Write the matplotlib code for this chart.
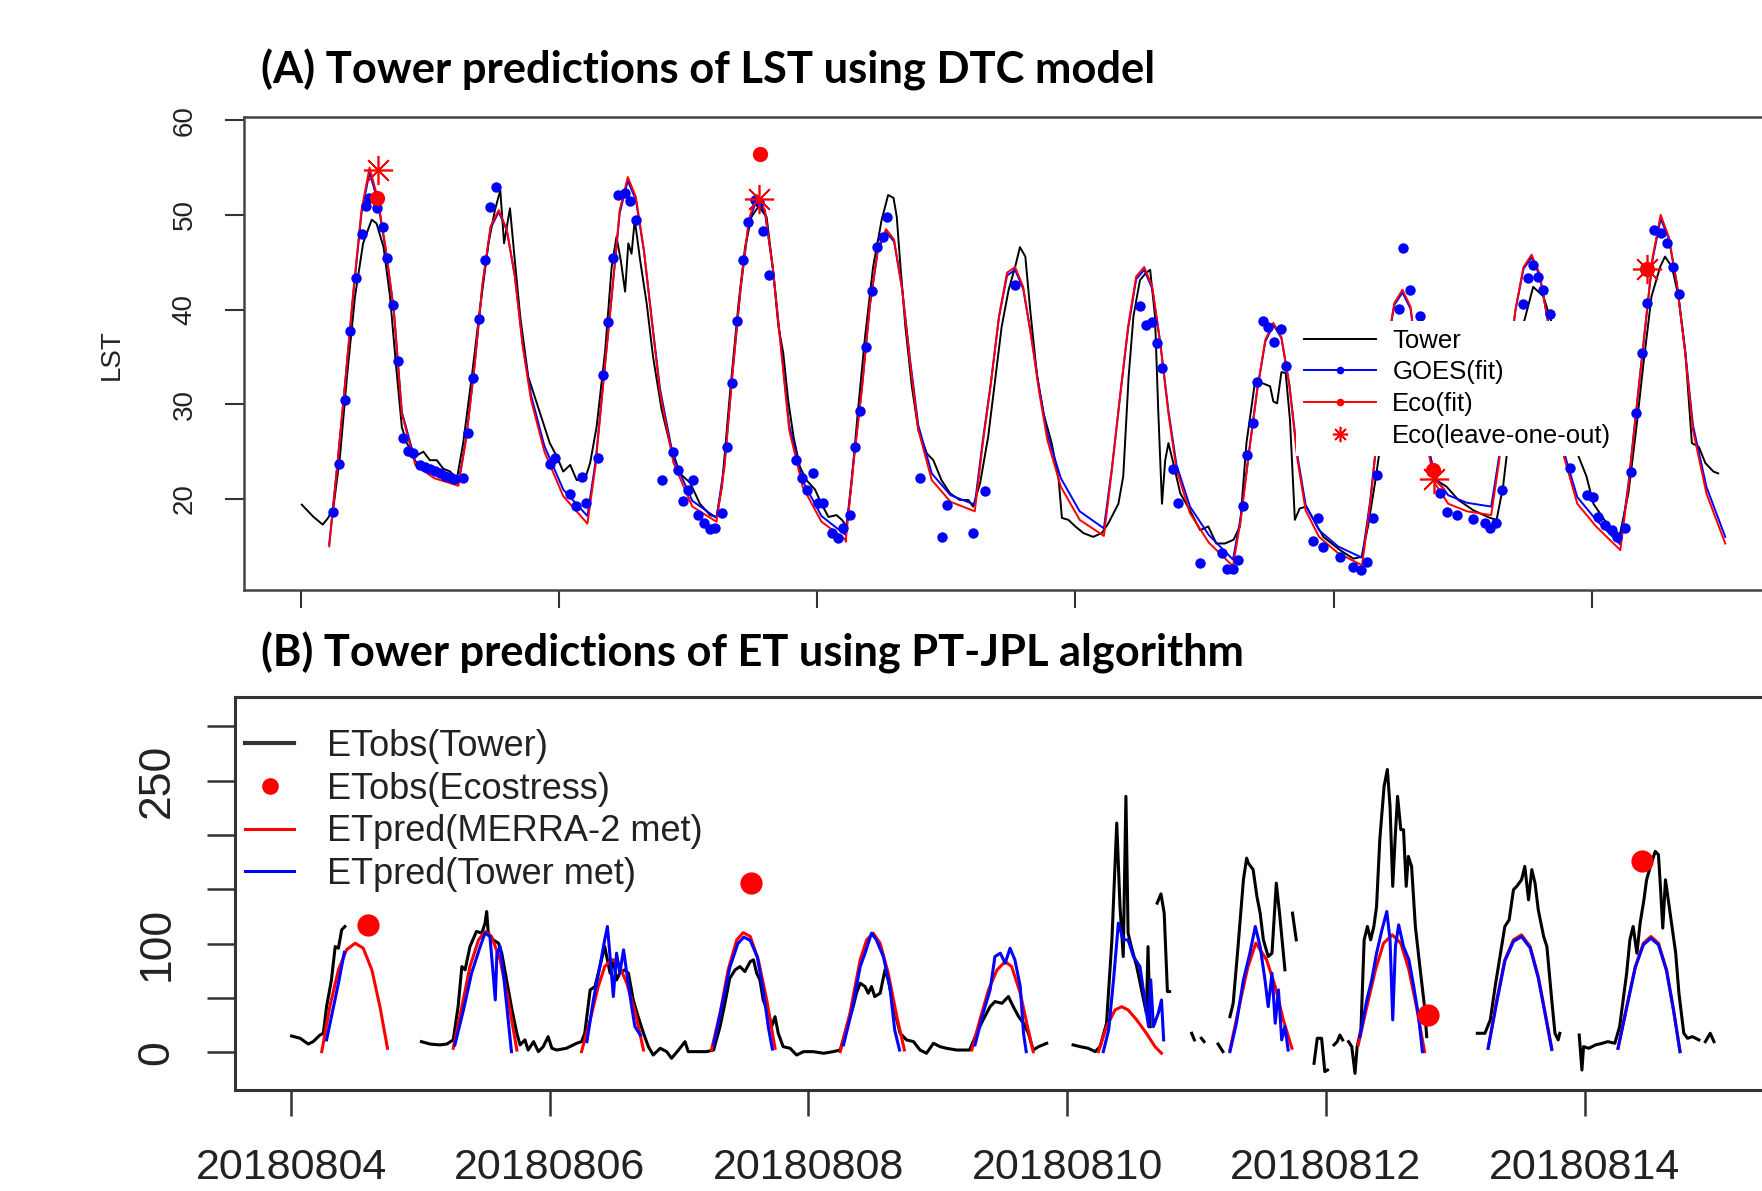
import numpy as np
import matplotlib
matplotlib.use('Agg')
import matplotlib.pyplot as plt
from matplotlib.lines import Line2D

nan = np.nan

# x axis: hours since 2018-08-04 00:00
date_ticks = [0, 48, 96, 144, 192, 240]
date_labels = ['20180804', '20180806', '20180808', '20180810', '20180812', '20180814']

# ---------------- (A) LST ----------------
# DTC model curves, one row per day, sampled at start + offset hours
dtc_starts = [5.3, 29.3, 53.3, 77.3, 101.3, 125.3, 149.3, 173.3, 197.3, 221.3, 245.3]
dtc_offsets = [0, 1.5, 3, 4.5, 6, 7.5, 9, 10.5, 12, 13.5, 16, 19.5, 24]
eco_fit = [
    [15.0, 23.5, 32.5, 42.0, 50.5, 55.0, 51.8, 46.5, 40.0, 29.0, 23.6, 22.2, 21.4],
    [21.4, 26.5, 34.0, 42.8, 48.8, 50.5, 48.5, 43.5, 36.0, 30.5, 25.0, 20.3, 17.4],
    [17.4, 23.5, 32.6, 41.4, 50.5, 54.0, 51.9, 46.3, 38.6, 31.2, 23.8, 19.2, 17.6],
    [17.6, 23.5, 33.5, 42.5, 49.5, 52.1, 50.5, 44.2, 35.7, 27.3, 21.3, 17.6, 15.7],
    [15.5, 24.0, 31.5, 40.5, 46.5, 48.5, 47.4, 42.1, 34.3, 27.3, 22.0, 19.7, 18.7],
    [18.7, 25.9, 32.2, 39.3, 43.9, 44.5, 42.4, 37.1, 31.2, 26.2, 21.3, 17.8, 16.1],
    [16.1, 23.1, 30.8, 38.2, 43.5, 44.5, 42.4, 36.4, 29.0, 23.1, 18.5, 15.4, 12.9],
    [12.9, 18.0, 25.0, 31.5, 36.8, 38.6, 37.1, 31.9, 24.1, 18.8, 16.0, 14.3, 13.0],
    [13.0, 19.5, 27.6, 35.7, 40.7, 42.1, 40.3, 33.6, 25.9, 21.7, 19.5, 18.7, 18.3],
    [18.3, 24.1, 32.9, 40.0, 44.5, 45.8, 43.8, 38.9, 31.2, 24.5, 19.5, 17.1, 14.6],
    [14.6, 21.3, 29.5, 37.5, 45.5, 50.0, 47.7, 42.8, 35.7, 27.3, 20.6, 15.3, nan],
]
goes_fit = [
    [15.2, 23.6, 32.5, 41.8, 50.2, 54.5, 51.5, 46.3, 40.0, 29.2, 24.0, 22.7, 21.6],
    [21.6, 26.6, 34.0, 42.6, 48.6, 50.3, 48.4, 43.6, 36.2, 31.0, 25.6, 21.0, 18.2],
    [18.2, 23.9, 32.6, 41.3, 50.2, 53.6, 51.6, 46.2, 38.8, 31.6, 24.3, 19.8, 18.0],
    [18.0, 23.8, 33.5, 42.3, 49.2, 51.7, 50.2, 44.2, 36.0, 27.8, 21.9, 18.2, 16.2],
    [16.2, 24.2, 31.6, 40.4, 46.3, 48.2, 47.2, 42.2, 34.6, 27.8, 22.7, 20.4, 19.4],
    [19.4, 26.2, 32.3, 39.2, 43.6, 44.2, 42.2, 37.2, 31.6, 26.8, 22.2, 18.7, 16.9],
    [16.9, 23.3, 30.8, 38.0, 43.2, 44.2, 42.2, 36.4, 29.3, 23.6, 19.2, 16.2, 13.6],
    [13.6, 18.3, 25.1, 31.5, 36.6, 38.4, 37.0, 32.0, 24.5, 19.4, 16.7, 15.0, 13.8],
    [13.8, 19.8, 27.7, 35.6, 40.5, 41.8, 40.1, 33.7, 26.3, 22.4, 20.4, 19.6, 19.2],
    [19.2, 24.6, 33.0, 39.9, 44.3, 45.5, 43.6, 38.9, 31.5, 25.0, 20.2, 17.8, 15.2],
    [15.2, 21.6, 29.6, 37.4, 45.3, 49.6, 47.5, 42.8, 35.9, 27.8, 21.3, 16.0, nan],
]

tower_lst = [
    (0.2, 19.4), (2.4, 18.1), (4.1, 17.3), (5.1, 18.0), (6.1, 19.2), (7.3, 24.5), (8.6, 32.9),
    (10.1, 41.4), (11.6, 47.0), (13.2, 49.5), (14.1, 49.1), (15.4, 46.6), (16.6, 41.4), (17.8, 33.6),
    (18.8, 27.6), (19.7, 25.9), (21.3, 24.5), (22.8, 25.0), (24.0, 24.1), (25.3, 24.1), (26.5, 23.2),
    (27.8, 22.9), (29.0, 22.0), (30.2, 25.9), (31.8, 32.9), (33.3, 40.0), (34.9, 47.0), (36.1, 50.5),
    (37.1, 52.6), (37.8, 47.0), (38.9, 50.7), (39.8, 45.2), (40.8, 39.3), (42.3, 32.9), (43.9, 30.1),
    (45.1, 28.0), (46.3, 25.9), (47.6, 24.5), (48.8, 22.9), (50.1, 23.6), (51.3, 22.0), (52.9, 22.2),
    (53.8, 23.8), (55.0, 27.6), (56.6, 35.7), (57.8, 44.5), (58.7, 47.7), (59.5, 45.2), (60.3, 41.9),
    (60.9, 47.0), (61.5, 45.9), (62.1, 49.5), (63.1, 45.2), (64.3, 40.7), (65.5, 35.0), (67.1, 29.4),
    (68.6, 25.9), (70.5, 22.7), (72.4, 21.7), (74.2, 19.5), (76.1, 18.3), (77.3, 18.1), (78.3, 21.3),
    (79.8, 31.2), (81.4, 40.7), (82.6, 46.6), (83.8, 49.8), (85.1, 50.9), (86.6, 49.8), (87.8, 44.2),
    (88.8, 38.2), (89.7, 35.4), (90.6, 30.5), (91.6, 26.6), (92.8, 23.4), (94.0, 22.0), (95.6, 21.0),
    (96.8, 19.5), (98.1, 18.1), (99.6, 18.3), (100.6, 17.8), (101.5, 17.1), (102.4, 21.7), (103.6, 29.4),
    (104.9, 37.1), (106.4, 44.5), (108.0, 49.5), (109.2, 52.1), (110.2, 51.8), (110.8, 49.8), (111.4, 45.2),
    (112.4, 38.2), (113.6, 31.9), (114.8, 27.3), (116.4, 24.8), (117.6, 24.1), (119.1, 22.0), (120.7, 20.6),
    (122.5, 19.9), (124.1, 19.9), (125.0, 19.2), (126.3, 21.7), (127.8, 26.6), (129.0, 32.2), (130.3, 38.2),
    (131.6, 42.1), (132.8, 44.5), (133.7, 46.6), (134.7, 45.6), (135.6, 40.0), (136.9, 32.9), (138.1, 29.0),
    (139.6, 25.9), (140.9, 22.0), (141.5, 18.0), (142.7, 17.8), (144.0, 17.1), (145.5, 16.4), (147.3, 16.0),
    (148.9, 16.4), (150.1, 17.4), (152.0, 19.5), (152.9, 22.4), (153.9, 32.9), (154.8, 39.3), (156.0, 43.1),
    (157.0, 43.8), (157.9, 44.2), (158.8, 39.3), (159.4, 29.4), (160.1, 19.5), (160.7, 24.1), (161.3, 25.9),
    (162.2, 23.8), (163.5, 20.6), (165.3, 18.8), (167.2, 16.7), (168.7, 17.1), (170.2, 15.3), (171.8, 15.3),
    (173.4, 15.7), (174.6, 17.1), (175.8, 25.9), (177.4, 32.4), (178.9, 32.2), (180.2, 31.9), (180.8, 30.3),
    (181.5, 30.1), (182.3, 33.4), (183.1, 33.3), (183.9, 28.3), (184.8, 17.8), (185.7, 19.0), (186.9, 19.2),
    (190.1, 16.0), (193.2, 14.6), (195.7, 13.7), (197.2, 13.9), (198.4, 17.1), (199.7, 21.7), (201.2, 27.6),
    (203.1, 32.9), (204.9, 35.7), (206.8, 32.9), (209.3, 25.9), (211.1, 22.0), (213.0, 21.3), (215.2, 19.9),
    (218.0, 18.8), (221.1, 18.0), (222.3, 17.8), (223.5, 21.3), (224.8, 27.6), (227.3, 38.5), (229.1, 42.4),
    (231.0, 41.4), (232.6, 38.5), (234.1, 29.4), (237.8, 24.1), (239.0, 22.4), (240.3, 19.5), (242.8, 17.4),
    (245.2, 16.2), (246.8, 20.6), (248.3, 27.6), (249.6, 34.3), (251.1, 41.4), (252.7, 44.5), (253.6, 45.6),
    (254.9, 44.5), (256.1, 41.4), (257.4, 35.4), (258.6, 25.9), (259.9, 25.5), (261.1, 23.8), (262.6, 22.9),
    (263.5, 22.7),
]

goes_obs = [
    (6.07, 18.66), (7.19, 23.70), (8.24, 30.46), (9.17, 37.78), (10.29, 43.37), (11.34, 47.95),
    (12.14, 50.94), (12.76, 51.75), (14.13, 50.76), (15.24, 48.69), (16.11, 45.41), (17.22, 40.49),
    (18.15, 34.61), (19.08, 26.41), (20.01, 25.10), (20.94, 24.82), (22.18, 23.59), (23.11, 23.41),
    (24.04, 23.13), (24.97, 22.96), (25.90, 22.71), (26.83, 22.43), (27.76, 22.36), (28.50, 22.08),
    (30.11, 22.25), (31.16, 27.00), (32.09, 32.81), (33.21, 39.01), (34.26, 45.24), (35.19, 50.80),
    (36.31, 52.98), (46.34, 23.70), (47.27, 24.29), (50.06, 20.53), (51.18, 19.26), (52.23, 22.36),
    (53.04, 19.54), (55.33, 24.36), (56.13, 33.09), (57.19, 38.66), (58.12, 45.48), (59.05, 52.10),
    (60.29, 52.28), (61.22, 51.47), (62.33, 49.46), (67.10, 22.01), (69.27, 25.00), (70.20, 23.06),
    (71.13, 19.82), (72.06, 20.95), (72.99, 22.01), (73.92, 18.31), (74.97, 17.43), (76.08, 16.80),
    (77.01, 16.90), (78.25, 18.49), (79.18, 25.46), (80.11, 32.21), (81.16, 38.83), (82.28, 45.24),
    (83.21, 49.29), (84.45, 51.57), (85.19, 51.40), (85.99, 48.30), (87.11, 43.65), (92.06, 24.12),
    (93.11, 22.18), (94.04, 20.95), (95.16, 22.71), (96.21, 19.61), (97.14, 19.61), (98.69, 16.37),
    (99.93, 15.85), (100.86, 16.90), (102.10, 18.31), (103.03, 25.53), (103.96, 29.29), (105.08, 36.09),
    (106.13, 41.96), (107.06, 46.65), (108.17, 47.70), (109.04, 49.81), (115.11, 22.18), (119.14, 16.02),
    (120.07, 19.37), (125.03, 16.44), (127.20, 20.84), (132.77, 42.60), (156.00, 40.38), (157.11, 38.37),
    (158.16, 38.73), (159.09, 36.44), (160.02, 33.80), (162.07, 23.13), (163.12, 19.54), (167.15, 13.28),
    (171.18, 14.33), (172.11, 12.57), (173.35, 12.57), (174.28, 13.56), (175.08, 19.30), (175.95, 24.65),
    (177.06, 27.99), (177.68, 32.39), (178.90, 38.80), (179.90, 38.20), (180.97, 36.60), (182.30, 38.00),
    (183.10, 34.00), (188.10, 15.60), (189.15, 17.96), (189.96, 14.90), (193.19, 13.91), (195.67, 12.78),
    (197.03, 12.50), (198.14, 13.38), (199.38, 17.96), (200.12, 22.53), (204.20, 40.03), (204.95, 46.54),
    (206.19, 42.07), (208.05, 39.32), (211.77, 20.60), (213.00, 18.66), (214.87, 18.31), (217.97, 17.85),
    (220.14, 17.43), (221.07, 16.90), (222.18, 17.43), (223.24, 20.95), (227.14, 40.56), (228.19, 43.37),
    (229.00, 44.71), (229.93, 43.48), (230.86, 42.07), (232.22, 39.53), (235.93, 23.24), (239.03, 20.42),
    (240.14, 20.18), (241.20, 18.13), (242.43, 17.25), (243.67, 16.73), (244.60, 16.02), (246.15, 16.90),
    (247.20, 22.89), (248.19, 29.05), (249.25, 35.38), (250.18, 40.66), (251.54, 48.41), (252.78, 48.05),
    (253.90, 47.00), (255.00, 44.53), (256.30, 41.61),
]

eco_obs_h = [14.25, 85.4, 210.5, 250.3]
eco_obs_lst = [51.75, 56.4, 23.06, 44.25]
eco_loo_h = [14.44, 85.2, 210.65, 250.3]
eco_loo_lst = [54.74, 51.64, 22.08, 44.25]

# ---------------- (B) ET ----------------
tower_et = [
    (0.1, 15.0), (1.7, 12.9), (3.2, 7.6), (4.1, 9.8), (5.4, 16.0), (6.0, 17.5), (6.6, 42.0), (7.5, 66.6),
    (8.2, 97.3), (8.8, 95.8), (9.4, 112.7), (10.0, 115.8), (nan, nan),
    (24.2, 9.8), (25.8, 7.6), (27.6, 6.8), (28.9, 7.6), (30.1, 11.4), (31.0, 42.0), (31.7, 78.9),
    (32.3, 75.9), (33.2, 97.3), (34.4, 111.2), (35.4, 109.7), (36.0, 118.9), (36.3, 129.6), (36.6, 109.7),
    (37.5, 103.5), (38.5, 100.4), (39.1, 91.2), (40.0, 66.6), (41.0, 39.0), (41.9, 17.5), (42.5, 6.8),
    (43.4, 11.4), (44.0, 2.1), (45.0, 9.8), (45.9, 0.6), (46.8, 5.2), (47.7, 14.4), (48.4, 3.7),
    (49.3, 2.1), (51.1, 3.7), (53.0, 8.3), (53.9, 9.8), (54.5, 17.5), (55.5, 57.4), (56.4, 60.5),
    (57.0, 72.8), (57.6, 85.1), (58.2, 97.3), (59.2, 72.8), (59.8, 85.1), (60.4, 66.6), (61.0, 72.8),
    (61.9, 75.9), (62.6, 72.8), (63.5, 48.2), (64.4, 32.8), (65.4, 17.5), (66.3, 5.2), (67.2, -2.5),
    (68.5, 3.7), (69.7, 0.6), (70.6, -5.5), (71.9, 2.1), (73.1, 9.8), (73.7, 0.6), (75.3, 0.6),
    (77.1, 0.6), (78.4, 2.1), (79.6, 23.6), (80.5, 45.1), (81.4, 68.1), (82.4, 75.9), (83.3, 78.9),
    (84.2, 74.3), (85.2, 83.5), (85.8, 85.1), (86.4, 72.8), (87.0, 66.6), (87.6, 48.2), (88.6, 35.9),
    (89.2, 24.0), (89.8, 32.8), (90.4, 17.5), (91.3, 5.2), (92.6, 3.7), (93.8, -2.5), (95.1, 0.6),
    (96.9, 0.6), (98.8, -0.9), (100.6, 0.6), (101.9, 2.1), (103.1, 23.6), (104.3, 42.0), (104.9, 54.3),
    (105.6, 63.6), (106.5, 60.5), (107.1, 54.3), (107.7, 60.5), (108.3, 51.3), (109.3, 54.3), (110.2, 75.9),
    (110.8, 66.6), (111.8, 42.0), (113.0, 17.5), (114.2, 11.4), (115.5, 9.8), (116.7, 2.1), (117.9, -0.9),
    (119.2, 8.3), (120.4, 5.2), (121.6, 3.7), (123.5, 2.1), (125.9, 2.1), (127.2, 17.5), (128.4, 29.8),
    (129.7, 42.0), (130.6, 46.7), (131.9, 45.1), (133.1, 51.3), (134.0, 42.0), (135.0, 32.8), (135.9, 26.7),
    (136.8, 17.5), (137.7, 2.1), (138.7, 5.2), (140.2, 8.3), (nan, nan),
    (145.1, 6.8), (146.4, 5.2), (147.9, 3.7), (149.2, 0.6), (150.1, 5.2), (151.3, 26.7), (152.3, 103.5),
    (153.2, 211.0), (153.8, 134.2), (154.4, 88.1), (154.9, 235.6), (155.3, 109.7), (155.9, 97.3),
    (156.9, 78.9), (157.8, 57.4), (158.7, 35.9), (159.0, 97.3), (159.4, 23.6), (nan, nan),
    (160.7, 137.3), (161.4, 145.8), (162.0, 128.1), (162.6, 55.9), (163.0, 55.9), (nan, nan),
    (167.1, 17.5), (167.6, 11.4), (nan, nan), (168.9, 12.9), (169.4, 9.8), (nan, nan),
    (172.0, 7.6), (172.9, 0.6), (nan, nan),
    (174.2, 32.8), (174.8, 45.1), (175.7, 97.3), (176.7, 158.8), (177.3, 178.7), (177.6, 174.2),
    (178.5, 168.1), (179.2, 143.5), (179.8, 128.1), (180.4, 103.5), (181.3, 88.1), (182.0, 91.2),
    (182.8, 155.7), (183.4, 128.1), (184.4, 75.9), (nan, nan), (185.8, 128.1), (186.5, 103.5), (nan, nan),
    (189.8, -10.1), (190.4, 12.9), (191.2, 12.9), (191.8, -17.8), (192.3, -16.3), (nan, nan),
    (193.5, 6.8), (194.1, 9.8), (194.6, 15.9), (195.1, 11.4), (nan, nan),
    (196.2, 9.8), (196.8, 5.2), (197.4, -19.4), (197.8, 5.2), (198.5, 20.6), (199.1, 103.5), (199.7, 115.8),
    (200.3, 103.5), (200.9, 115.8), (201.4, 134.2), (202.0, 195.7), (202.8, 244.9), (203.4, 260.3),
    (203.9, 226.4), (204.4, 152.7), (204.9, 201.8), (205.3, 235.6), (205.9, 204.9), (206.4, 204.9),
    (206.9, 152.7), (207.3, 180.3), (207.9, 171.1), (208.6, 115.8), (209.5, 75.9), (210.3, 42.0),
    (210.7, 14.4), (nan, nan),
    (220.1, 17.5), (221.5, 17.5), (222.5, 29.8), (223.4, 60.5), (224.3, 88.1), (225.2, 115.8), (226.0, 121.9),
    (226.8, 149.6), (227.4, 152.7), (228.3, 158.8), (228.9, 171.1), (229.6, 140.3), (230.2, 168.1),
    (230.8, 155.7), (231.4, 131.2), (232.4, 106.6), (233.0, 97.3), (233.9, 48.2), (234.5, 17.5),
    (235.1, 11.4), (235.4, 17.5), (nan, nan),
    (239.0, 15.9), (239.5, -16.3), (239.8, 5.2), (240.8, 3.7), (242.0, 6.8), (243.3, 8.3), (244.3, 9.8),
    (245.6, 8.3), (246.5, 23.6), (247.8, 72.8), (248.4, 103.5), (249.0, 115.8), (249.7, 91.2), (250.3, 118.9),
    (251.0, 140.3), (251.5, 158.8), (252.2, 171.1), (253.1, 184.9), (253.7, 181.8), (254.1, 149.6),
    (254.5, 114.3), (255.0, 158.8), (255.6, 137.3), (256.2, 115.8), (256.9, 91.2), (257.5, 54.3),
    (258.4, 17.5), (259.1, 12.9), (260.0, 14.4), (261.2, 11.4), (nan, nan),
    (262.4, 9.8), (263.3, 17.5), (264.0, 9.8),
]

et_merra = [
    [(5.7, 0.6), (7.2, 42.0), (8.8, 75.9), (10.3, 94.3), (11.9, 100.4), (13.4, 95.8), (15.0, 75.9), (16.5, 42.0), (17.9, 3.7)],
    [(30.1, 3.7), (31.7, 42.0), (33.2, 78.9), (34.8, 103.5), (36.0, 111.2), (37.2, 106.6), (38.8, 85.1), (40.3, 48.2), (41.9, 2.1)],
    [(53.9, 0.6), (55.5, 29.8), (57.0, 60.5), (58.2, 78.9), (59.5, 85.1), (60.7, 82.0), (62.3, 63.6), (63.9, 35.9), (65.4, 2.1)],
    [(78.0, 2.1), (79.6, 35.9), (81.1, 75.9), (82.7, 103.5), (83.9, 110.2), (85.2, 106.6), (86.7, 85.1), (88.3, 47.0), (89.8, 3.7)],
    [(101.9, 0.6), (103.7, 35.9), (105.6, 85.1), (106.8, 103.5), (108.0, 109.7), (109.3, 100.4), (110.8, 72.8), (112.4, 32.8), (113.8, 2.1)],
    [(126.3, 2.1), (127.8, 29.8), (129.4, 57.4), (131.0, 75.9), (132.5, 83.5), (133.7, 78.9), (135.3, 54.3), (136.5, 26.7), (137.7, 0.6)],
    [(149.8, 0.6), (151.3, 23.6), (152.9, 39.0), (154.1, 42.0), (155.3, 39.0), (156.9, 29.8), (158.7, 17.5), (160.3, 5.2), (161.5, -0.9)],
    [(174.2, 2.1), (175.9, 42.0), (177.5, 78.0), (179.0, 100.5), (181.0, 85.1), (182.6, 60.5), (184.1, 29.8), (185.7, 3.7)],
    [(198.0, 6.8), (199.6, 42.0), (201.2, 75.9), (202.7, 100.4), (204.3, 108.1), (205.9, 100.4), (207.4, 75.9), (208.8, 42.0), (210.3, 0.6)],
    [(222.1, 3.7), (223.7, 48.2), (225.2, 85.1), (226.8, 103.5), (228.3, 108.1), (229.9, 97.3), (231.4, 69.7), (232.7, 35.9), (233.9, 3.7)],
    [(246.2, 3.7), (247.8, 42.0), (249.4, 78.9), (250.9, 100.4), (252.3, 106.6), (253.7, 100.4), (255.2, 75.9), (256.5, 39.0), (257.7, 0.6)],
]
et_tower_met = [
    [(6.6, 11.4), (7.9, 42.0), (8.8, 63.6), (9.4, 78.9), (9.9, 92.0)],
    [(30.4, 6.8), (32.0, 39.0), (33.5, 72.8), (35.1, 97.3), (36.0, 109.7), (36.9, 106.6), (37.5, 72.8), (37.9, 48.2),
     (38.2, 91.2), (38.8, 97.3), (39.4, 72.8), (40.3, 29.8), (40.9, 0.6)],
    [(54.9, 9.8), (56.1, 48.2), (57.3, 78.9), (58.2, 103.5), (58.7, 115.8), (59.2, 88.1), (59.8, 51.3), (60.4, 91.2),
     (61.0, 72.8), (61.7, 94.3), (62.3, 72.8), (63.2, 42.0), (63.8, 23.6), (64.8, 15.9)],
    [(78.4, 6.8), (79.9, 42.0), (81.4, 78.0), (82.9, 100.0), (84.0, 106.0), (85.2, 103.0), (86.5, 88.0), (87.6, 57.0),
     (88.6, 22.0), (89.3, 3.0)],
    [(102.5, 6.8), (104.1, 39.0), (105.6, 78.9), (106.5, 91.2), (107.1, 100.4), (107.7, 109.7), (108.6, 103.5),
     (109.9, 88.1), (111.1, 60.5), (112.0, 20.6), (112.9, 2.1)],
    [(126.9, 6.8), (128.4, 35.9), (129.7, 57.4), (130.6, 88.1), (131.6, 91.2), (132.5, 82.0), (133.4, 95.8),
     (134.3, 85.1), (135.3, 60.5), (135.9, 17.5), (136.4, 0.6)],
    [(150.7, 0.6), (151.7, 20.6), (152.6, 66.6), (153.5, 118.9), (154.4, 103.5), (155.3, 103.5), (156.3, 88.1),
     (157.5, 78.9), (158.4, 48.2), (159.1, 23.6), (159.5, 66.6), (160.0, 23.6), (160.9, 35.9), (161.5, 48.2), (161.9, 11.4)],
    [(174.2, 0.6), (175.4, 26.7), (176.7, 66.6), (177.9, 91.2), (178.9, 115.8), (179.8, 97.3), (180.7, 66.6),
     (181.3, 42.0), (182.0, 72.8), (182.6, 26.7), (183.2, 57.4), (183.8, 11.4), (184.4, 23.6), (185.0, 2.1)],
    [(198.3, 14.4), (199.6, 48.2), (200.5, 66.6), (201.4, 91.2), (202.4, 112.7), (203.3, 129.6), (203.9, 103.5),
     (204.4, 29.8), (204.9, 97.3), (205.5, 117.3), (206.4, 97.3), (207.4, 85.1), (208.3, 60.5), (209.2, 32.8), (209.9, 0.6)],
    [(222.1, 3.7), (223.7, 46.0), (225.2, 84.0), (226.8, 102.0), (228.3, 106.5), (229.9, 96.0), (231.4, 68.5),
     (232.7, 34.5), (233.9, 2.5)],
    [(246.2, 3.7), (247.8, 41.0), (249.4, 78.0), (250.9, 99.0), (252.3, 105.0), (253.7, 99.0), (255.2, 75.0),
     (256.5, 38.5), (257.7, 0.6)],
]
eco_et_h = [14.35, 85.3, 211.0, 250.6]
eco_et = [117.3, 155.7, 34.4, 175.7]


def join_days(days):
    # put NaN between days so each day is drawn on its own
    out = []
    for d in days:
        out.extend(d)
        out.append((nan, nan))
    return np.array(out).T


font = 'Liberation Sans'
txt_col = '#222222'

W, H = 1762, 1191
fig = plt.figure(figsize=(W / 100, H / 100), dpi=100)

# ---------- panel A ----------
axA = fig.add_axes([244 / W, 1 - 590 / H, (1800 - 244) / W, (590 - 117) / H])
dtc_h = np.array([[s + o for o in dtc_offsets] for s in dtc_starts]).ravel()
tl_h, tl_v = np.array(tower_lst).T
go_h, go_v = np.array(goes_obs).T

axA.plot(tl_h, tl_v, color='black', lw=1.4, zorder=2)
axA.plot(dtc_h, np.array(goes_fit).ravel(), color='blue', lw=1.4, zorder=3)
axA.plot(dtc_h, np.array(eco_fit).ravel(), color='red', lw=1.4, zorder=3)
axA.plot(go_h, go_v, 'o', color='blue', ms=7.5, mec='none', zorder=4)
axA.plot(eco_obs_h, eco_obs_lst, 'o', color='red', ms=11, mec='none', zorder=5)
axA.plot(eco_loo_h, eco_loo_lst, ls='none', marker=(8, 2, 0), color='red', ms=21, mew=1.2, zorder=5)

axA.set_xlim(-10.54, 278.7)
axA.set_ylim(10.39, 60.34)
axA.set_xticks(date_ticks)
axA.set_xticklabels([])
axA.set_yticks([20, 30, 40, 50, 60])
axA.tick_params(axis='x', length=13, width=1.5, color='#333333')
axA.tick_params(axis='y', length=13.5, width=1.5, color='#333333', pad=20,
                labelsize=20, labelcolor=txt_col, labelrotation=90)
for lab in axA.get_yticklabels():
    lab.set_family(font)
    lab.set_va('center')
for sp in axA.spines.values():
    sp.set_linewidth(1.8)
    sp.set_color('#444444')
fig.text(112 / W, 1 - 355 / H, 'LST', rotation=90, ha='center', va='center',
         family=font, fontsize=20, color=txt_col)

hA = [Line2D([], [], color='black', lw=1.4),
      Line2D([], [], color='blue', lw=1.4, marker='o', ms=4.5),
      Line2D([], [], color='red', lw=1.4, marker='o', ms=4.5),
      Line2D([], [], ls='none', color='red', marker=(8, 2, 0), ms=11, mew=1.2)]
legA = axA.legend(hA, ['Tower', 'GOES(fit)', 'Eco(fit)', 'Eco(leave-one-out)'],
                  loc='upper left', bbox_to_anchor=(1296 / W, 1 - 321 / H), bbox_transform=fig.transFigure,
                  borderaxespad=0, borderpad=0.3, handlelength=2.8, handletextpad=0.65, labelspacing=0.3,
                  fancybox=False, framealpha=1, prop={'family': font, 'size': 18.5})
legA.get_frame().set_edgecolor('none')
legA.set_zorder(10)

# ---------- panel B ----------
axB = fig.add_axes([235 / W, 1 - 1090 / H, (1800 - 235) / W, (1090 - 697) / H])
te_h, te_v = np.array(tower_et).T
mh, mv = join_days(et_merra)
bh, bv = join_days(et_tower_met)
axB.plot(te_h, te_v, color='black', lw=2.2, zorder=2)
axB.plot(mh, mv, color='red', lw=2.2, zorder=3)
axB.plot(bh, bv, color='blue', lw=2.2, zorder=4)
axB.plot(eco_et_h, eco_et, 'o', color='red', ms=16, mec='none', zorder=5)

axB.set_xlim(-10.39, 279.96)
axB.set_ylim(-34.7, 327)
axB.set_xticks(date_ticks)
axB.set_xticklabels(date_labels, family=font, fontsize=31, color=txt_col)
axB.set_yticks([0, 50, 100, 150, 200, 250, 300])
axB.set_yticklabels(['0', '', '100', '', '', '250', ''])
axB.tick_params(axis='x', length=19, width=1.8, color='#333333', pad=23)
axB.tick_params(axis='y', length=20, width=1.8, color='#333333', pad=21.5,
                labelsize=32, labelcolor=txt_col, labelrotation=90)
for lab in axB.get_yticklabels():
    lab.set_family(font)
    lab.set_va('center')
for sp in axB.spines.values():
    sp.set_linewidth(2.2)
    sp.set_color('#333333')

hB = [Line2D([], [], color='#333333', lw=3),
      Line2D([], [], ls='none', color='red', marker='o', ms=12, mec='none'),
      Line2D([], [], color='red', lw=2.2),
      Line2D([], [], color='blue', lw=2.2)]
legB = axB.legend(hB, ['ETobs(Tower)', 'ETobs(Ecostress)', 'ETpred(MERRA-2 met)', 'ETpred(Tower met)'],
                  loc='upper left', bbox_to_anchor=(245 / W, 1 - 729 / H), bbox_transform=fig.transFigure,
                  borderaxespad=0, borderpad=0, handlelength=1.36, handletextpad=0.9, labelspacing=0.21,
                  frameon=False, prop={'family': font, 'size': 26})
for t in legB.get_texts():
    t.set_color(txt_col)


# ---------- titles ----------
def fit_title(x_px, y_px, s, width_px):
    t = fig.text(x_px / W, 1 - y_px / H, s, fontsize=30, fontweight='bold', family='Lato',
                 ha='left', va='center', color='black')
    w = t.get_window_extent(renderer=fig.canvas.get_renderer()).width
    t.set_fontsize(30 * width_px / w)
    return t


fit_title(261, 70, '(A) Tower predictions of LST using DTC model', 893)
fit_title(261, 653, '(B) Tower predictions of ET using PT-JPL algorithm', 983)

fig.savefig('out.png', dpi=100)
